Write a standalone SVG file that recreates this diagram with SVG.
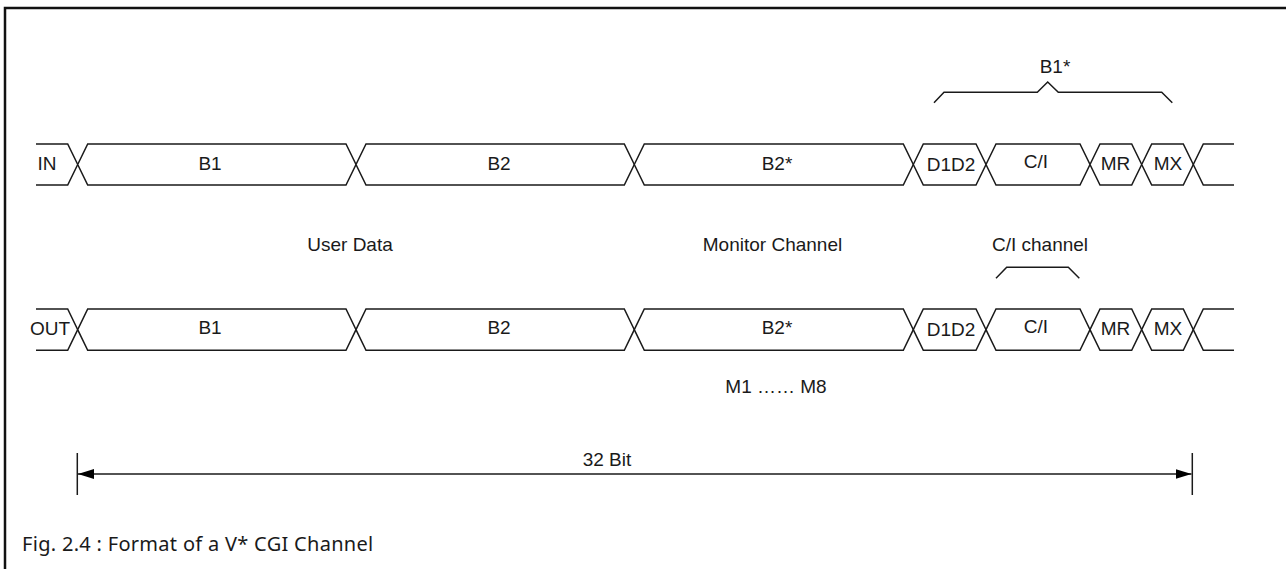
<svg xmlns="http://www.w3.org/2000/svg" width="1286" height="569" viewBox="0 0 1286 569">
<defs>
<style>
.ln{fill:none;stroke:#1a1a1a;stroke-width:1.5;stroke-linejoin:miter}
.cell{fill:#fff;stroke:#1a1a1a;stroke-width:1.5}
.t{font-family:"Liberation Sans",Arial,sans-serif;font-size:19px;fill:#1a1a1a;text-anchor:middle}
.cap{font-family:"Noto Sans","Open Sans",sans-serif;font-size:20px;fill:#1a1a1a}
</style>
<marker id="ah" viewBox="0 0 16 10" refX="16" refY="5" markerWidth="16" markerHeight="10" markerUnits="userSpaceOnUse" orient="auto-start-reverse">
<path d="M0,0 L16,5 L0,10 z" fill="#000"/>
</marker>
</defs>
<rect x="5" y="8" width="1300" height="580" fill="#fff" stroke="#111" stroke-width="2.5"/>

<g id="row-in">
<text class="t" x="47" y="170">IN</text>
<path class="ln" d="M36,144 L67.7,144 L77.7,164.5 L67.7,185 L36,185"/>
<g id="in-b1"><polygon class="cell" points="77.7,164.5 87.7,144 346,144 356,164.5 346,185 87.7,185"/><text class="t" x="210" y="170">B1</text></g>
<g id="in-b2"><polygon class="cell" points="356,164.5 366,144 624.3,144 634.3,164.5 624.3,185 366,185"/><text class="t" x="499" y="170">B2</text></g>
<g id="in-b2s"><polygon class="cell" points="634.3,164.5 644.3,144 903.3,144 913.3,164.5 903.3,185 644.3,185"/><text class="t" x="777" y="170">B2*</text></g>
<g id="in-d1d2"><polygon class="cell" points="913.3,164.5 923.3,144 976,144 986,164.5 976,185 923.3,185"/><text class="t" x="951" y="171">D1D2</text></g>
<g id="in-ci"><polygon class="cell" points="986,164.5 996,144 1080,144 1090,164.5 1080,185 996,185"/><text class="t" x="1036" y="168">C/I</text></g>
<g id="in-mr"><polygon class="cell" points="1090,164.5 1100,144 1131.7,144 1141.7,164.5 1131.7,185 1100,185"/><text class="t" x="1115.5" y="170">MR</text></g>
<g id="in-mx"><polygon class="cell" points="1141.7,164.5 1151.7,144 1183.3,144 1193.3,164.5 1183.3,185 1151.7,185"/><text class="t" x="1168" y="170">MX</text></g>
<path class="ln" d="M1234,144 L1203.3,144 L1193.3,164.5 L1203.3,185 L1234,185"/>
</g>

<g id="row-out">
<text class="t" x="50" y="335">OUT</text>
<path class="ln" d="M36,309 L67.7,309 L77.7,329.7 L67.7,350.3 L36,350.3"/>
<g id="out-b1"><polygon class="cell" points="77.7,329.7 87.7,309 346,309 356,329.7 346,350.3 87.7,350.3"/><text class="t" x="210" y="334">B1</text></g>
<g id="out-b2"><polygon class="cell" points="356,329.7 366,309 624.3,309 634.3,329.7 624.3,350.3 366,350.3"/><text class="t" x="499" y="334">B2</text></g>
<g id="out-b2s"><polygon class="cell" points="634.3,329.7 644.3,309 903.3,309 913.3,329.7 903.3,350.3 644.3,350.3"/><text class="t" x="777" y="334">B2*</text></g>
<g id="out-d1d2"><polygon class="cell" points="913.3,329.7 923.3,309 976,309 986,329.7 976,350.3 923.3,350.3"/><text class="t" x="951" y="336">D1D2</text></g>
<g id="out-ci"><polygon class="cell" points="986,329.7 996,309 1080,309 1090,329.7 1080,350.3 996,350.3"/><text class="t" x="1036" y="333">C/I</text></g>
<g id="out-mr"><polygon class="cell" points="1090,329.7 1100,309 1131.7,309 1141.7,329.7 1131.7,350.3 1100,350.3"/><text class="t" x="1115.5" y="335">MR</text></g>
<g id="out-mx"><polygon class="cell" points="1141.7,329.7 1151.7,309 1183.3,309 1193.3,329.7 1183.3,350.3 1151.7,350.3"/><text class="t" x="1168" y="335">MX</text></g>
<path class="ln" d="M1234,309 L1203.3,309 L1193.3,329.7 L1203.3,350.3 L1234,350.3"/>
</g>

<g id="labels">
<g id="b1star"><path class="ln" d="M934,102.7 L944,92.3 L1037.3,92.3 L1047.7,82 L1058.3,92.3 L1161.7,92.3 L1172.3,102.7"/><text class="t" x="1055" y="73">B1*</text></g>
<text class="t" x="350" y="251">User Data</text>
<text class="t" x="772.5" y="251">Monitor Channel</text>
<g id="ci-channel"><text class="t" x="1040" y="251">C/I channel</text><path class="ln" d="M996,278.3 L1006.7,267.3 L1068.3,267.3 L1079.3,278.3"/></g>
<text class="t" x="776" y="393">M1 …… M8</text>
</g>

<g id="connectors">
<line class="ln" x1="77.3" y1="453" x2="77.3" y2="495"/>
<line class="ln" x1="1192.3" y1="453" x2="1192.3" y2="495"/>
<line class="ln" x1="78" y1="474" x2="1191.5" y2="474" marker-start="url(#ah)" marker-end="url(#ah)"/>
<text class="t" x="607" y="466">32 Bit</text>
</g>

<text class="cap" x="22" y="551" letter-spacing="0.3">Fig. 2.4 : Format of a V* CGI Channel</text>
</svg>
